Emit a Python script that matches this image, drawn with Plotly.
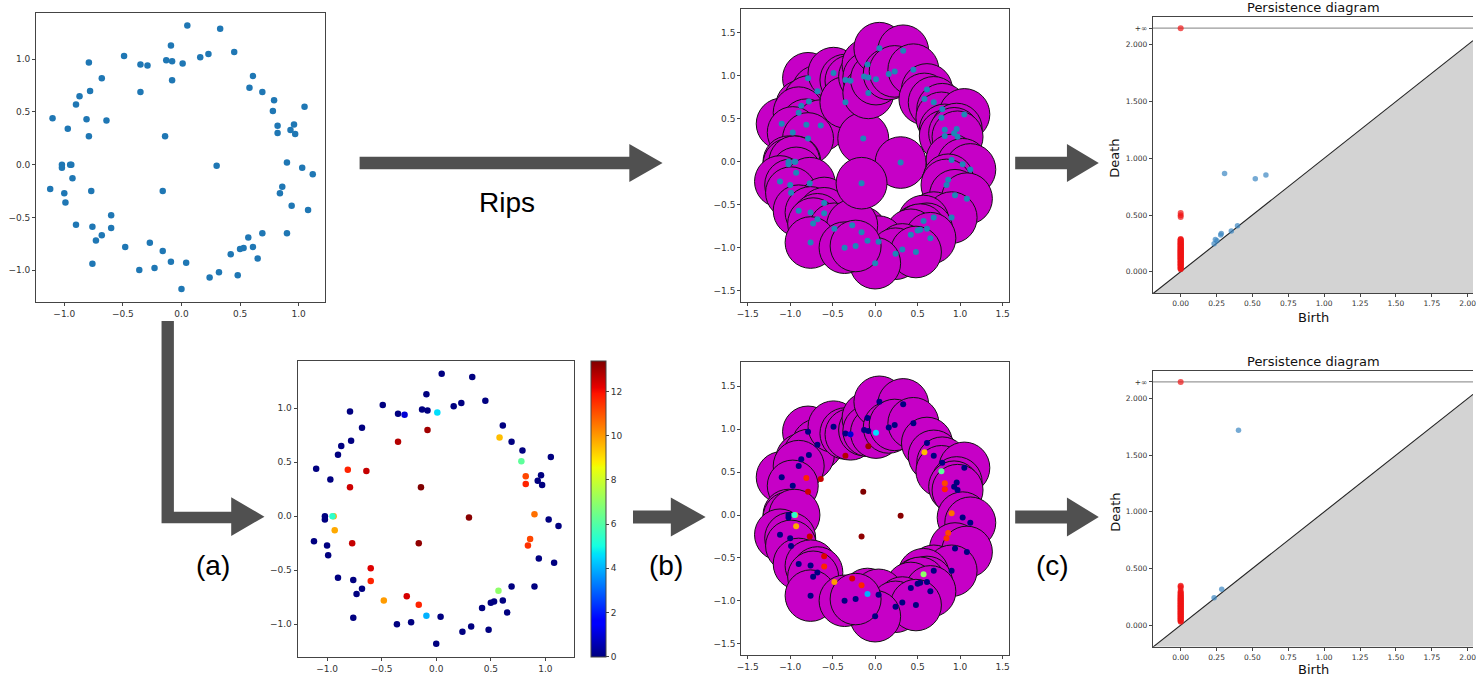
import numpy as np
import plotly.graph_objects as go

W, H = 1476, 676

# ---------------- data ----------------
pts_x = [-1.10, -0.79, -0.68, -0.87, -0.78, -0.90, -0.81, -0.64, -0.97, -0.79,
         -0.49, -0.35, -0.29, -0.35, -0.14, -0.13, -0.09, -0.08, -0.08, 0.01,
         -1.02, -1.02, -0.94, -0.95, 0.05, 0.33, 0.16, 0.23, 0.45, 0.61,
         0.58, 0.69, 0.79, 0.78, 1.05, 0.82, 0.82, 0.96, 0.93, 0.97,
         0.30, 0.90, 1.03, 1.12, 0.86, 0.84, 0.94, 1.08, 0.69, 0.90,
         0.57, 0.61, 0.50, 0.53, 0.42, 0.65, -0.16, -0.09, 0.04, 0.32,
         0.24, 0.48, 0.00, -0.93, -1.12, -1.00, -0.77, -0.99, -0.60, -0.90,
         -0.76, -0.60, -0.68, -0.73, -0.48, -0.27, -0.76, -0.36, -0.23, -0.16]
pts_y = [0.44, 0.97, 0.82, 0.65, 0.70, 0.57, 0.43, 0.42, 0.34, 0.27,
         1.03, 0.95, 0.94, 0.69, 0.27, 0.99, 1.13, 0.98, 0.80, 0.96,
         0.00, -0.03, 0.00, 0.00, 1.32, 1.29, 1.02, 1.05, 1.07, 0.84,
         0.73, 0.69, 0.61, 0.51, 0.55, 0.37, 0.30, 0.38, 0.33, 0.29,
         -0.01, 0.02, -0.03, -0.09, -0.21, -0.27, -0.39, -0.43, -0.65, -0.65,
         -0.69, -0.78, -0.80, -0.79, -0.85, -0.89, -0.82, -0.92, -0.93, -1.02,
         -1.07, -1.05, -1.18, -0.13, -0.23, -0.27, -0.25, -0.36, -0.48, -0.57,
         -0.59, -0.60, -0.67, -0.72, -0.78, -0.74, -0.94, -1.00, -0.98, -0.25]
pts_val = [0, 0, 0, 0, 0, 0, 11.7, 12.6, 0, 12.5,
           0, 0, 1.0, 12.8, 13.4, 0, 0, 0, 13.0, 4.6,
           0, 0, 9.8, 5.4, 0, 0, 0, 0, 0, 0,
           9.5, 0, 0, 6.2, 0, 11.2, 11.7, 0, 0, 0,
           13.3, 10.6, 0, 0, 11.2, 11.5, 0, 0, 0, 0,
           7.0, 0, 0, 0, 0, 0, 11.7, 4.0, 0, 0,
           0, 0, 0, 9.8, 0, 0, 12.6, 0, 12.3, 0,
           0, 11.7, 0, 0, 10.0, 12.4, 0, 0, 0, 13.2]

ball_radius = 0.3
filter_threshold = 8.0
INF_LEVEL = 2.147

top_h0_death = [0.021, 0.027, 0.033, 0.038, 0.044, 0.051, 0.057, 0.061, 0.066, 0.073,
                0.077, 0.084, 0.089, 0.093, 0.098, 0.105, 0.108, 0.114, 0.119, 0.121,
                0.128, 0.132, 0.137, 0.140, 0.146, 0.151, 0.153, 0.159, 0.162, 0.168,
                0.171, 0.177, 0.180, 0.186, 0.189, 0.195, 0.198, 0.204, 0.209, 0.212,
                0.218, 0.223, 0.226, 0.232, 0.237, 0.242, 0.247, 0.252, 0.257, 0.263,
                0.267, 0.273, 0.279, 0.284, 0.289, 0.483, 0.497, 0.518]
top_h1_birth = [0.306, 0.520, 0.594, 0.233, 0.242, 0.253, 0.283, 0.279, 0.353, 0.396]
top_h1_death = [0.865, 0.820, 0.853, 0.247, 0.285, 0.274, 0.338, 0.324, 0.359, 0.406]

bot_h0_death = [0.031, 0.036, 0.042, 0.049, 0.054, 0.061, 0.066, 0.072, 0.078, 0.083,
                0.089, 0.094, 0.101, 0.106, 0.111, 0.117, 0.122, 0.128, 0.133, 0.139,
                0.144, 0.149, 0.155, 0.161, 0.166, 0.171, 0.176, 0.182, 0.188, 0.193,
                0.198, 0.204, 0.209, 0.215, 0.221, 0.226, 0.232, 0.238, 0.243, 0.249,
                0.256, 0.262, 0.268, 0.275, 0.283, 0.291, 0.302, 0.328, 0.341, 0.348]
bot_h1_birth = [0.403, 0.233, 0.286]
bot_h1_death = [1.720, 0.241, 0.318]

# ---------------- helpers ----------------
def px(x):
    return x / W

def py(y):
    return 1 - y / H

# matplotlib "jet"
stops = [0, 0.11, 0.125, 0.34, 0.35, 0.375, 0.64, 0.65, 0.66, 0.89, 0.91, 1]
rr = np.interp(stops, [0, 0.35, 0.66, 0.89, 1], [0, 0, 1, 1, 0.5])
gg = np.interp(stops, [0, 0.125, 0.375, 0.64, 0.91, 1], [0, 0, 1, 1, 0, 0])
bb = np.interp(stops, [0, 0.11, 0.34, 0.65, 1], [0.5, 1, 1, 0, 0])
jet = [[s, f"rgb({int(round(r*255))},{int(round(g*255))},{int(round(b*255))})"]
       for s, r, g, b in zip(stops, rr, gg, bb)]

TICKFONT = dict(family="DejaVu Sans", size=9, color="#333")
PTICKFONT = dict(family="DejaVu Sans", size=7.5, color="#333")

def axis(dom, rng, anchor, mirror=True, font=TICKFONT, **kw):
    d = dict(domain=dom, range=rng, anchor=anchor, showgrid=False, zeroline=False,
             showline=True, linecolor="#444", linewidth=1, mirror=mirror,
             ticks="outside", ticklen=3, tickcolor="#444", tickfont=font,
             ticklabeloverflow="allow")
    d.update(kw)
    return d

fig = go.Figure()

# ---- panel 1: raw point cloud (top-left) ----
fig.add_trace(go.Scatter(x=pts_x, y=pts_y, mode="markers", xaxis="x", yaxis="y",
                         marker=dict(color="#1f77b4", size=6.5), showlegend=False))

# ---- panel 2: Rips balls (top-middle) ----
shapes = []
for cx, cy in zip(pts_x, pts_y):
    shapes.append(dict(type="circle", xref="x2", yref="y2", layer="below",
                       x0=cx - ball_radius, x1=cx + ball_radius,
                       y0=cy - ball_radius, y1=cy + ball_radius,
                       fillcolor="#c600c6", line=dict(color="#111", width=1)))
fig.add_trace(go.Scatter(x=pts_x, y=pts_y, mode="markers", xaxis="x2", yaxis="y2",
                         marker=dict(color="#1f86b8", size=6), showlegend=False))

# ---- panel 4: coloured point cloud with colorbar (bottom-left) ----
fig.add_trace(go.Scatter(
    x=pts_x, y=pts_y, mode="markers", xaxis="x4", yaxis="y4", showlegend=False,
    marker=dict(color=pts_val, colorscale=jet, cmin=0, cmax=13.4, size=6.5,
                showscale=True,
                colorbar=dict(x=px(589.3), xanchor="left", y=py(656.7), yanchor="bottom",
                              len=(656.7 - 361) / H, lenmode="fraction",
                              thickness=14.5, thicknessmode="pixels",
                              xpad=0, ypad=0, outlinewidth=1, outlinecolor="#444",
                              tickvals=[0, 2, 4, 6, 8, 10, 12], ticks="outside",
                              ticklen=3, tickcolor="#444", tickfont=TICKFONT))))

# ---- panel 5: filtered balls (bottom-middle) ----
for cx, cy, v in zip(pts_x, pts_y, pts_val):
    if v < filter_threshold:
        shapes.append(dict(type="circle", xref="x5", yref="y5", layer="below",
                           x0=cx - ball_radius, x1=cx + ball_radius,
                           y0=cy - ball_radius, y1=cy + ball_radius,
                           fillcolor="#c600c6", line=dict(color="#111", width=1)))
fig.add_trace(go.Scatter(x=pts_x, y=pts_y, mode="markers", xaxis="x5", yaxis="y5",
                         showlegend=False,
                         marker=dict(color=pts_val, colorscale=jet, cmin=0, cmax=13.4,
                                     size=6, showscale=False)))

# ---- persistence diagrams ----
PX_RANGE = [-0.194, 2.037]
PY_RANGE = [-0.19, 2.243]

def persistence(xa, ya, h0, h1b, h1d):
    lo, hi = PX_RANGE
    fig.add_trace(go.Scatter(x=[lo, hi, hi, lo], y=[lo, hi, PY_RANGE[0], PY_RANGE[0]],
                             fill="toself", fillcolor="#d3d3d3", mode="none",
                             xaxis=xa, yaxis=ya, showlegend=False, hoverinfo="skip"))
    fig.add_trace(go.Scatter(x=[lo, hi], y=[lo, hi], mode="lines",
                             line=dict(color="#222", width=1.1),
                             xaxis=xa, yaxis=ya, showlegend=False, hoverinfo="skip"))
    fig.add_trace(go.Scatter(x=[lo, hi], y=[INF_LEVEL, INF_LEVEL], mode="lines",
                             line=dict(color="#9a9a9a", width=1.2),
                             xaxis=xa, yaxis=ya, showlegend=False, hoverinfo="skip"))
    fig.add_trace(go.Scatter(x=h1b, y=h1d, mode="markers", xaxis=xa, yaxis=ya,
                             marker=dict(color="#3a86c2", size=5.5, opacity=0.7),
                             showlegend=False))
    fig.add_trace(go.Scatter(x=[0] * len(h0) + [0], y=h0 + [INF_LEVEL], mode="markers",
                             xaxis=xa, yaxis=ya,
                             marker=dict(color="#f01414", size=6, opacity=0.7),
                             showlegend=False))

persistence("x3", "y3", top_h0_death, top_h1_birth, top_h1_death)
persistence("x6", "y6", bot_h0_death, bot_h1_birth, bot_h1_death)

ptick_y = dict(tickvals=[0, 0.5, 1.0, 1.5, 2.0, INF_LEVEL],
               ticktext=["0.000", "0.500", "1.000", "1.500", "2.000", "+∞"])
ptick_x = dict(tickvals=[0, 0.25, 0.5, 0.75, 1.0, 1.25, 1.5, 1.75, 2.0], tickformat=".2f")

sc_ticks = dict(tick0=0, dtick=0.5, tickformat=".1f")

fig.update_layout(
    width=W, height=H, margin=dict(l=0, r=0, t=0, b=0),
    paper_bgcolor="white", plot_bgcolor="white", showlegend=False,
    xaxis=axis([px(32.3), px(322.7)], [-1.24, 1.226], "y", **sc_ticks),
    yaxis=axis([py(301.7), py(13.3)], [-1.30, 1.436], "x", **sc_ticks),
    xaxis2=axis([px(740.7), px(1009.3)], [-1.577, 1.570], "y2", **sc_ticks),
    yaxis2=axis([py(301.7), py(9.3)], [-1.628, 1.772], "x2", **sc_ticks),
    xaxis3=axis([px(1154.3), 1.0], PX_RANGE, "y3", font=PTICKFONT, **ptick_x),
    yaxis3=axis([py(293.3), py(17.3)], PY_RANGE, "x3", mirror=False, font=PTICKFONT, **ptick_y),
    xaxis4=axis([px(295), px(572.7)], [-1.27, 1.262], "y4", **sc_ticks),
    yaxis4=axis([py(656.7), py(361)], [-1.30, 1.438], "x4", **sc_ticks),
    xaxis5=axis([px(740.7), px(1009.3)], [-1.577, 1.570], "y5", **sc_ticks),
    yaxis5=axis([py(655), py(362.3)], [-1.632, 1.78], "x5", **sc_ticks),
    xaxis6=axis([px(1154.3), 1.0], PX_RANGE, "y6", font=PTICKFONT, **ptick_x),
    yaxis6=axis([py(646.7), py(371)], PY_RANGE, "x6", mirror=False, font=PTICKFONT, **ptick_y),
)

# ---- arrows (decoration) ----
ARROW = "#505050"

def path(points):
    return "M " + " L ".join(f"{px(a):.5f},{py(b):.5f}" for a, b in points) + " Z"

arrows = [
    [(357.3, 156.7), (628.3, 156.7), (628.3, 144), (661.7, 163), (628.3, 182), (628.3, 169.3), (357.3, 169.3)],
    [(1016, 156.7), (1068, 156.7), (1068, 144), (1100, 163), (1068, 182), (1068, 169.3), (1016, 169.3)],
    [(158.3, 321), (170.7, 321), (170.7, 511.7), (228.3, 511.7), (228.3, 497.3), (261.7, 516.7),
     (228.3, 536), (228.3, 523.3), (158.3, 523.3)],
    [(632, 510.5), (670, 510.5), (670, 497.5), (705, 517), (670, 536.5), (670, 523.5), (632, 523.5)],
    [(1016, 510.5), (1068, 510.5), (1068, 497.5), (1100, 517), (1068, 536.5), (1068, 523.5), (1016, 523.5)],
]
for a in arrows:
    shapes.append(dict(type="path", xref="paper", yref="paper", path=path(a),
                       fillcolor=ARROW, line=dict(width=0), layer="above"))

fig.update_layout(shapes=shapes)

# ---- text ----
BIG = dict(family="Liberation Sans, Arial, sans-serif", size=28, color="black")
LAB = dict(family="DejaVu Sans", size=13, color="#111")
ann = [
    dict(text="Rips", x=px(505), y=py(203), font=BIG),
    dict(text="(a)", x=px(210), y=py(565), font=BIG),
    dict(text="(b)", x=px(665), y=py(565), font=BIG),
    dict(text="(c)", x=px(1053), y=py(565), font=BIG),
    dict(text="Persistence diagram", x=px(1316), y=py(7.5), font=LAB),
    dict(text="Persistence diagram", x=px(1316), y=py(361), font=LAB),
    dict(text="Birth", x=px(1316), y=py(317), font=LAB),
    dict(text="Birth", x=px(1316), y=py(669), font=LAB),
    dict(text="Death", x=px(1116), y=py(158), font=LAB, textangle=-90),
    dict(text="Death", x=px(1116), y=py(512), font=LAB, textangle=-90),
]
for a in ann:
    a.update(xref="paper", yref="paper", showarrow=False, xanchor="center", yanchor="middle")
fig.update_layout(annotations=ann)

fig.write_html("out.html", config={"displayModeBar": False},
               post_script="document.body.style.margin='0px';document.body.style.overflow='hidden';")
